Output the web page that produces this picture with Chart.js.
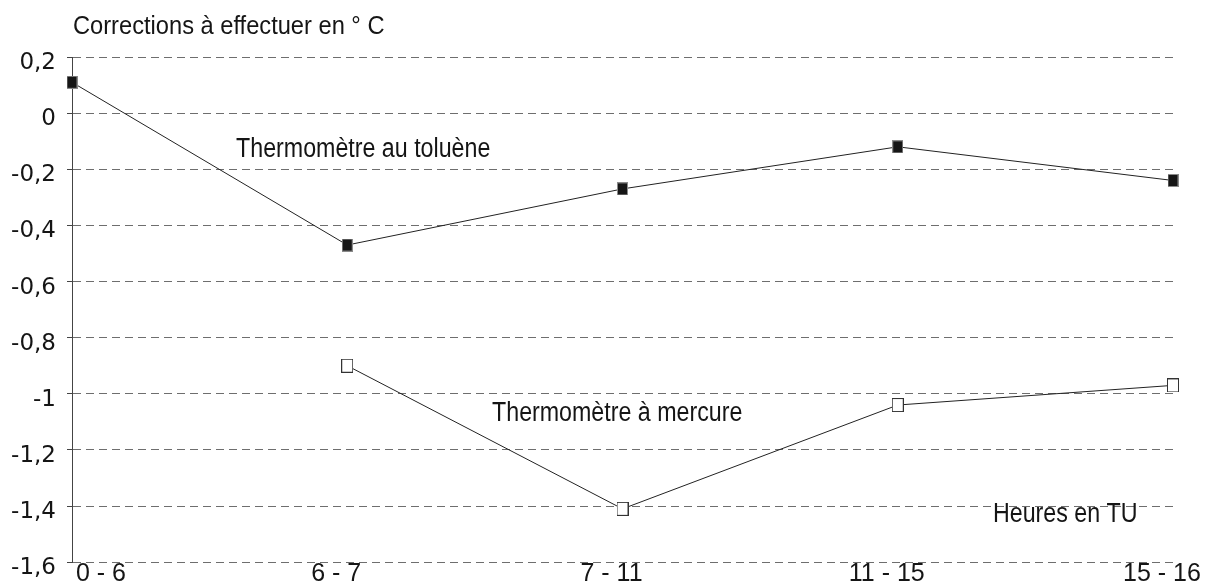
<!DOCTYPE html>
<html lang="fr">
<head>
<meta charset="UTF-8">
<title>Corrections des thermomètres</title>
<script src="https://cdn.jsdelivr.net/npm/chart.js@4"></script>
<style>
    html, body { margin: 0; padding: 0; background: #fff; }
    canvas { display: block; }
</style>
</head>
<body>
<canvas id="corrChart" width="1208" height="587"></canvas>
<script>
// data
var categories = ['0 - 6', '6 - 7', '7 - 11', '11 - 15', '15 - 16'];
var toluene = [0.11, -0.47, -0.27, -0.12, -0.24];
var mercure = [null, -0.90, -1.41, -1.04, -0.97];
var yMin = -1.6, yMax = 0.2, yStep = 0.2;
var seriesNames = ['Thermomètre au toluène', 'Thermomètre à mercure'];
var yTitle = 'Corrections à effectuer en ° C';
var xTitle = 'Heures en TU';

// small rectangular markers
function makeMarker(w, h, fill, stroke) {
    var c = document.createElement('canvas');
    c.width = w;
    c.height = h;
    var g = c.getContext('2d');
    g.fillStyle = fill;
    g.fillRect(0, 0, w, h);
    g.strokeStyle = stroke;
    g.lineWidth = 1;
    g.strokeRect(0.5, 0.5, w - 1, h - 1);
    return c;
}
var filledMarker = makeMarker(11, 13, '#161616', '#8a8a8a');
var hollowMarker = makeMarker(12, 14, '#ffffff', '#333333');

function frNumber(v) {
    return String(Math.round(v * 10) / 10).replace('.', ',');
}

// texts: axis title, category labels, series labels
var chartText = {
    id: 'chartText',
    afterDraw: function(chart) {
        var ctx = chart.ctx;
        var area = chart.chartArea;
        var x = chart.scales.x, y = chart.scales.y;
        ctx.save();
        ctx.fillStyle = '#151515';
        ctx.textBaseline = 'alphabetic';

        // axis title, a little narrowed
        ctx.font = '26px "Liberation Sans", Arial, sans-serif';
        ctx.textAlign = 'left';
        ctx.save();
        ctx.translate(area.left + 1, area.top - 23);
        ctx.scale(0.91, 1);
        ctx.fillText(yTitle, 0, 0);
        ctx.restore();

        ctx.font = '25px "Liberation Sans", Arial, sans-serif';
        categories.forEach(function(c, i) {
            var px = x.getPixelForTick(i);
            if (i === 0) {
                ctx.textAlign = 'left';
                ctx.fillText(c, px + 4, area.bottom + 19);
            } else {
                ctx.textAlign = 'center';
                ctx.fillText(c, px - 11, area.bottom + 19);
            }
        });

        // narrow lettering inside the plot
        var notes = [
            [seriesNames[0], 0.596, -0.156],
            [seriesNames[1], 1.526, -1.097],
            [xTitle, 3.346, -1.456]
        ];
        ctx.font = '27px "Liberation Sans", Arial, sans-serif';
        ctx.textAlign = 'left';
        notes.forEach(function(n) {
            ctx.save();
            ctx.translate(x.getPixelForValue(n[1]), y.getPixelForValue(n[2]));
            ctx.scale(0.86, 1);
            ctx.fillText(n[0], 0, 0);
            ctx.restore();
        });
        ctx.restore();
    }
};

var ctx = document.getElementById('corrChart').getContext('2d');
var corrChart = new Chart(ctx, {
    type: 'line',
    data: {
        labels: categories,
        datasets: [{
            label: seriesNames[0],
            data: toluene,
            borderColor: '#222',
            borderWidth: 1,
            pointStyle: filledMarker,
            pointRadius: 6,
            tension: 0,
            clip: false
        }, {
            label: seriesNames[1],
            data: mercure,
            borderColor: '#222',
            borderWidth: 1,
            pointStyle: hollowMarker,
            pointRadius: 6,
            tension: 0,
            clip: false
        }]
    },
    options: {
        responsive: false,
        animation: false,
        layout: { padding: { top: 57, right: 35, bottom: 0, left: 0 } },
        plugins: {
            legend: { display: false },
            tooltip: { enabled: false }
        },
        scales: {
            x: {
                offset: false,
                grid: { display: false },
                border: { display: false },
                ticks: { display: false },
                afterFit: function(scale) { scale.height = 23; }
            },
            y: {
                min: yMin,
                max: yMax,
                ticks: {
                    stepSize: yStep,
                    color: '#151515',
                    font: { family: '"DejaVu Sans"', size: 23 },
                    padding: 11,
                    labelOffset: 6,
                    callback: function(v) { return frNumber(v); }
                },
                grid: {
                    color: '#6e6e6e',
                    tickLength: 5,
                    tickColor: '#444',
                    tickBorderDash: []
                },
                border: { display: true, color: '#444', width: 1, dash: [8, 5] },
                afterFit: function(scale) { scale.width = 72; }
            }
        }
    },
    plugins: [chartText]
});
</script>
</body>
</html>
